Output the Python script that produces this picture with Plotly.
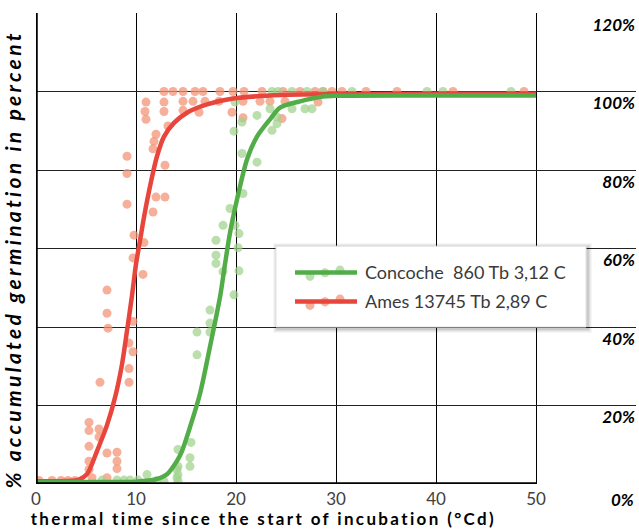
import plotly.graph_objects as go

# ---- seed germination observations (thermal time in °Cd, accumulated germination in %) ----
ames_x = [0.3, 1.6, 2.5, 3.2, 3.9, 5.6, 7.1, 5.3, 8.1, 5.3, 8.1, 7.1, 8.1, 5.3, 6.3, 5.3, 6.3, 5.3,
          6.4, 9.3, 9.3, 9.7, 9.3, 7.2, 9.7, 7.1, 7.1, 10.7, 9.7, 10.8, 9.8, 11.7, 9.1, 12.0, 12.9,
          9.1, 12.9, 9.1, 11.7, 11.8, 12.0, 13.2, 11.0, 10.9, 12.8, 11.0, 12.8, 12.8,
          13.7, 14.7, 15.9, 16.7, 18.4, 19.7, 20.8, 22.6, 24.7, 26.4, 27.9, 28.7, 29.6, 30.6,
          33.0, 36.1, 41.7, 48.8,
          14.7, 15.7, 16.9, 18.3, 20.7, 22.4, 23.4, 24.9, 28.2,
          14.7, 16.3, 19.6, 20.7, 24.6]
ames_y = [0.9, 0.9, 0.9, 0.9, 0.9, 1.6, 1.6, 3.7, 3.9, 5.8, 5.8, 7.9, 8.1, 9.6, 12.0, 13.6, 14.0, 15.7,
          25.9, 25.9, 29.4, 33.7, 35.9, 39.7, 41.4, 43.5, 49.4, 53.4, 57.6, 61.5, 63.4, 69.3, 71.3, 73.1, 73.1,
          79.1, 81.2, 83.5, 85.4, 87.3, 89.1, 91.2, 92.9, 94.9, 94.9, 97.3, 97.3, 100.0,
          100.0, 100.0, 100.0, 100.0, 100.0, 100.0, 100.0, 100.0, 100.0, 100.0, 100.0, 100.0, 100.0, 100.0,
          100.0, 100.0, 100.0, 100.0,
          97.5, 97.5, 97.5, 97.5, 97.5, 97.5, 97.5, 97.5, 97.3,
          95.2, 94.7, 94.7, 93.3, 93.1]

concoche_x = [6.6, 8.1, 8.8, 9.4, 10.2, 11.1, 12.1, 12.8, 14.1, 14.1, 14.2, 14.2, 14.2, 14.2, 15.4, 15.4, 15.5,
              16.1, 16.1, 17.4, 17.4, 17.4, 19.8, 18.7, 20.3, 18.0, 18.0, 20.2, 18.0, 20.3, 18.7, 19.9,
              19.4, 20.7, 22.1, 20.6, 19.8, 23.6, 24.1, 20.6, 24.1, 22.1, 23.4, 25.6, 26.9, 27.6, 19.9,
              23.6, 24.2, 25.6, 27.1, 28.7, 31.6, 39.1, 40.7, 47.5]
concoche_y = [1.0, 1.0, 1.0, 1.0, 1.0, 2.4, 0.9, 0.7, 1.6, 3.7, 0.7, 2.4, 4.5, 8.8, 4.5, 6.7, 10.6,
              32.9, 38.7, 38.7, 41.0, 44.3, 48.2, 54.1, 54.3, 56.2, 58.3, 60.2, 62.1, 63.8, 65.9, 65.9,
              70.2, 74.0, 82.0, 84.2, 89.9, 90.1, 91.8, 92.2, 93.5, 93.9, 95.6, 95.6, 95.6, 95.6, 97.3,
              100.0, 100.0, 100.0, 100.0, 100.0, 100.0, 100.0, 100.0, 100.0]

# ---- fitted germination curves ----
ames_fit_x = [0, 2, 3.6, 4.3, 5.1, 6.1, 7.1, 7.9, 8.6, 9.1, 9.6, 10.0, 10.4, 10.8, 11.5, 12.1, 12.8,
              13.8, 15.1, 17.1, 19.7, 24.5, 30, 40, 50]
ames_fit_y = [0.7, 0.7, 0.8, 1.1, 2.5, 8.4, 15.0, 22.0, 30.5, 39.0, 48.0, 56.0, 62.0, 68.0, 77.0, 83.5,
              88.5, 92.0, 94.6, 96.7, 98.2, 99.1, 99.3, 99.4, 99.4]
concoche_fit_x = [0, 5, 10, 12, 13.1, 14.1, 14.6, 15.4, 16.4, 17.4, 18.4, 18.9, 19.4, 20.1, 21.1,
                  22.1, 23.4, 24.4, 26.4, 28.4, 30, 40, 50]
concoche_fit_y = [0.5, 0.5, 0.6, 1.2, 2.5, 5.9, 8.4, 14.5, 23.0, 35.0, 47.6, 56.0, 64.0, 72.5, 82.7,
                  88.5, 92.9, 95.9, 97.5, 98.6, 98.9, 99.0, 99.0]

x_ticks = [0, 10, 20, 30, 40, 50]
y_ticks = [0, 20, 40, 60, 80, 100, 120]
y_tick_text = ["0%", "20%", "40%", "60%", "80%", "100%", "120%"]

legend_names = ["Concoche  860 Tb 3,12 C", "Ames 13745 Tb 2,89 C"]
x_title = "thermal time since the start of incubation (°Cd)"
y_title = "% accumulated germination in percent"

RED_LINE = "#e8453c"
GREEN_LINE = "#52ad48"
RED_DOT = "rgba(243,150,120,0.75)"
GREEN_DOT = "rgba(160,210,140,0.72)"

YLAB_FONT = dict(family="Lato", size=17, color="black", weight="bold", style="italic")

fig = go.Figure()

fig.add_trace(go.Scatter(x=ames_x, y=ames_y, mode="markers",
                         marker=dict(size=9, color=RED_DOT, line=dict(width=0)),
                         showlegend=False, hoverinfo="skip"))
fig.add_trace(go.Scatter(x=concoche_x, y=concoche_y, mode="markers",
                         marker=dict(size=9, color=GREEN_DOT, line=dict(width=0)),
                         showlegend=False, hoverinfo="skip"))
fig.add_trace(go.Scatter(x=ames_fit_x, y=ames_fit_y, mode="lines",
                         line=dict(color=RED_LINE, width=4.5, shape="spline", smoothing=0.8),
                         showlegend=False))
fig.add_trace(go.Scatter(x=concoche_fit_x, y=concoche_fit_y, mode="lines",
                         line=dict(color=GREEN_LINE, width=4.5, shape="spline", smoothing=0.8),
                         showlegend=False))

shapes = []
# heavy left and bottom axis lines
shapes.append(dict(type="line", xref="x", yref="y", x0=0, x1=0, y0=0, y1=120,
                   line=dict(color="black", width=3.5), layer="above"))
shapes.append(dict(type="line", xref="x", yref="y", x0=0, x1=50, y0=0, y1=0,
                   line=dict(color="black", width=3.5), layer="above"))

# legend box with a soft drop shadow
lx0, lx1, ly0, ly1 = 24.0, 55.0, 40.0, 60.6
for i, a in enumerate([0.035, 0.045, 0.06, 0.08]):
    d = 4 - i
    shapes.append(dict(type="rect", xref="x", yref="y",
                       x0=lx0 - d * 0.1 + 0.1, x1=lx1 + d * 0.1 + 0.2,
                       y0=ly0 - d * 0.255 - 0.5, y1=ly1 + d * 0.255 - 0.2,
                       fillcolor=f"rgba(0,0,0,{a})", line=dict(width=0), layer="above"))
shapes.append(dict(type="rect", xref="x", yref="y", x0=lx0, x1=lx1, y0=ly0, y1=ly1,
                   fillcolor="white", line=dict(color="#e4e4e4", width=1), layer="above"))

legend_rows = [(53.9, GREEN_LINE, GREEN_DOT), (46.5, RED_LINE, RED_DOT)]
for row_y, line_c, dot_c in legend_rows:
    for dx, dy in [(27.4, -1.0), (28.9, -0.1), (30.4, 0.6)]:
        shapes.append(dict(type="circle", xref="x", yref="y",
                           x0=dx - 0.45, x1=dx + 0.45,
                           y0=row_y + dy - 1.15, y1=row_y + dy + 1.15,
                           fillcolor=dot_c, line=dict(width=0), layer="above"))
    shapes.append(dict(type="line", xref="x", yref="y", x0=25.9, x1=32.1, y0=row_y, y1=row_y,
                       line=dict(color=line_c, width=4.5), layer="above"))

annotations = []
for (row_y, _, _), name in zip(legend_rows, legend_names):
    annotations.append(dict(x=32.7, y=row_y, xref="x", yref="y", text=name, showarrow=False,
                            xanchor="left", yanchor="middle",
                            font=dict(family="Lato", size=18, color="#3a3a3a")))

# the 0% label sits below the plot floor, where inside tick labels get clipped
annotations.append(dict(x=1.0, y=y_ticks[0], xref="paper", yref="y", text=y_tick_text[0],
                        showarrow=False, xanchor="right", yanchor="top", xshift=-1, yshift=-4,
                        borderpad=0, font=YLAB_FONT))

# axis titles (spread out with letter-spacing after rendering)
annotations.append(dict(x=-0.038, y=0.478, xref="paper", yref="paper",
                        text=y_title, textangle=-90, borderpad=0,
                        showarrow=False, xanchor="center", yanchor="middle",
                        font=dict(family="Lato", size=21, color="black",
                                  weight="bold", style="italic")))
annotations.append(dict(x=0.379, y=-0.073, xref="paper", yref="paper",
                        text=x_title, borderpad=0,
                        showarrow=False, xanchor="center", yanchor="middle",
                        font=dict(family="Lato", size=17, color="black", weight="bold")))

fig.update_layout(
    width=639, height=530,
    margin=dict(l=36, r=3, t=13, b=46),
    paper_bgcolor="white", plot_bgcolor="white",
    showlegend=False,
    shapes=shapes, annotations=annotations,
    xaxis=dict(range=[0, 60], tickvals=x_ticks, showgrid=True, gridcolor="black", gridwidth=1,
               zeroline=False, showline=False, ticks="", ticklabelstandoff=3,
               tickfont=dict(family="Lato", size=17, color="#404040")),
    yaxis=dict(range=[0, 120], tickvals=y_ticks, ticktext=y_tick_text, side="right",
               ticklabelposition="inside bottom", ticklabelstandoff=-2,
               showgrid=True, gridcolor="#222222", gridwidth=1,
               zeroline=False, showline=False, ticks="",
               tickfont=YLAB_FONT),
)

# widen the tracking of the two axis titles so they span their full lengths
title_spans = {y_title: 458, x_title: 466}
track_js = """
var spans = %s;
document.querySelectorAll('text.annotation-text').forEach(function (t) {
  var want = spans[t.textContent];
  if (!want) { return; }
  var n = t.textContent.length;
  var have = t.getComputedTextLength();
  t.style.letterSpacing = ((want - have) / n) + 'px';
});
""" % str(title_spans).replace("'", '"')

fig.write_html("out.html", post_script=track_js)
